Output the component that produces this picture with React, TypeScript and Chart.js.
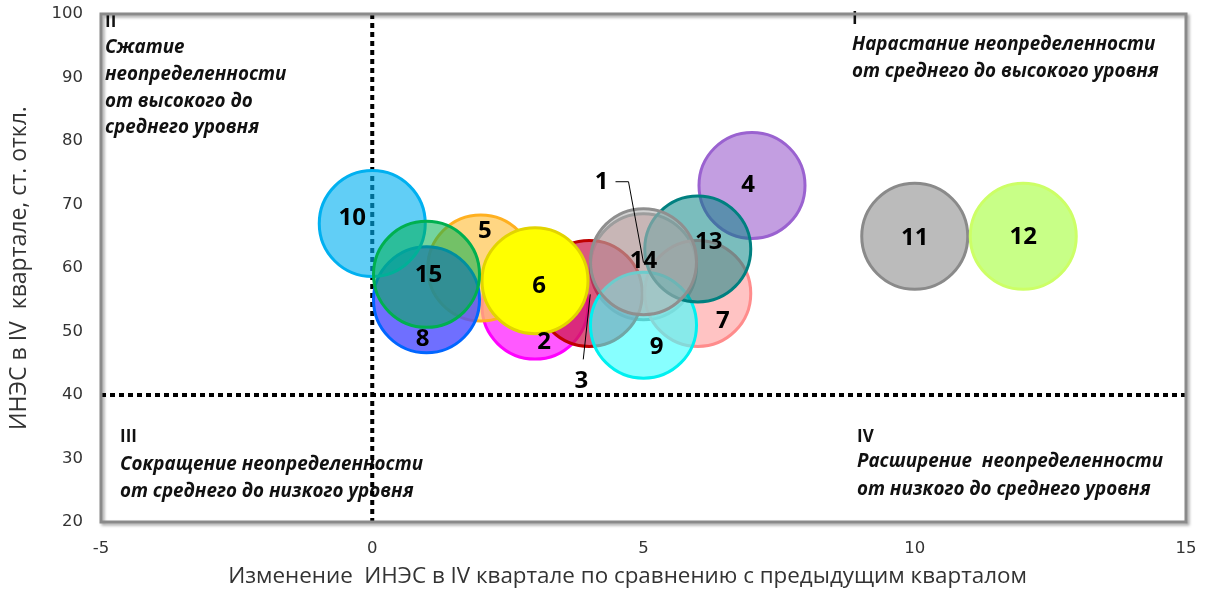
import React, { useEffect, useRef } from "react";
import { Chart, registerables } from "chart.js";

Chart.register(...registerables);

// ---- Data ----
const bubbleNames = ["1", "2", "3", "4", "5", "6", "7", "8", "9", "10", "11", "12", "13", "14", "15"];
const changeValues = [5, 3, 4, 7, 2, 3, 6, 1, 5, 0, 10, 12, 6, 5, 1];
const levelValues = [60.2, 54, 56, 73, 60, 58, 56, 55, 51, 67, 65, 65, 63, 61, 59];
const xTickValues = [-5, 0, 5, 10, 15];
const yTickValues = [20, 30, 40, 50, 60, 70, 80, 90, 100];
const xDivider = 0;
const yDivider = 40;

const xTitle = "Изменение  ИНЭС в IV квартале по сравнению с предыдущим кварталом";
const yTitle = "ИНЭС в IV  квартале, ст. откл.";

const quadrantTexts = [
  { numeral: "I", lines: ["Нарастание неопределенности", "от среднего до высокого уровня"] },
  { numeral: "II", lines: ["Сжатие", "неопределенности", "от высокого до", "среднего уровня"] },
  { numeral: "III", lines: ["Сокращение неопределенности", "от среднего до низкого уровня"] },
  { numeral: "IV", lines: ["Расширение  неопределенности", "от низкого до среднего уровня"] },
];

// ---- Styles ----
const fillColors = [
  "rgba(215,140,140,0.6)",
  "rgba(255,60,255,0.85)",
  "rgba(205,25,75,0.72)",
  "rgba(175,125,215,0.75)",
  "rgba(255,200,90,0.75)",
  "rgba(255,255,0,1)",
  "rgba(255,170,170,0.7)",
  "rgba(75,75,255,0.8)",
  "rgba(70,255,255,0.65)",
  "rgba(0,176,240,0.62)",
  "rgba(187,187,187,1)",
  "rgba(200,255,135,1)",
  "rgba(0,128,128,0.52)",
  "rgba(180,180,180,0.6)",
  "rgba(0,176,80,0.55)",
];
const borderColors = [
  "#7a7a7a", "#ff00ff", "#c00000", "#9a62d0", "#ffb020", "#e2d400", "#ff8c8c", "#0066ff",
  "#00f0f0", "#00b0f0", "#8a8a8a", "#ccff66", "#008080", "#8f8f8f", "#00b050",
];
// label offsets (px) relative to bubble centre
const labelOffsets = [
  [-42, -85], [9, 36], [-8, 88], [-4, 0], [4, -37], [4, 5], [25, 28], [-4, 39],
  [13, 22], [-20, -5], [0, 2], [0, 1], [11, -7], [0, 0], [2, 1],
];
// leader lines (px, relative to bubble centre)
const leaders: Record<number, number[][]> = {
  0: [[-28, -85], [-15, -85], [0, -4]],
  2: [[-6, 66], [1, 1]],
};

const overlayPlugin = {
  id: "overlay",
  beforeDatasetsDraw(chart: any) {
    const { ctx, chartArea, scales } = chart;
    const { left, right, top, bottom } = chartArea;
    ctx.save();
    // quadrant texts
    ctx.fillStyle = "#111";
    ctx.textAlign = "left";
    ctx.textBaseline = "middle";
    const boldFont = "bold 17px 'Open Sans'";
    const italicFont = "italic bold 18.8px 'Open Sans'";
    const put = (q: any, x: number, y0: number, ys: number[]) => {
      ctx.font = boldFont;
      ctx.fillText(q.numeral, x, y0);
      ctx.font = italicFont;
      q.lines.forEach((l: string, i: number) => ctx.fillText(l, x, ys[i]));
    };
    put(quadrantTexts[0], left + 751, top + 5, [top + 31, top + 58]);
    put(quadrantTexts[1], left + 4, top + 8, [top + 34, top + 61, top + 88, top + 114]);
    put(quadrantTexts[2], left + 19, top + 423, [top + 451, top + 478]);
    put(quadrantTexts[3], left + 756, top + 423, [top + 448, top + 476]);

    // dotted dividers
    const xp = scales.x.getPixelForValue(xDivider);
    const yp = scales.y.getPixelForValue(yDivider);
    ctx.strokeStyle = "#000";
    ctx.lineWidth = 4;
    ctx.setLineDash([5, 4]);
    ctx.beginPath();
    ctx.moveTo(xp, top);
    ctx.lineTo(xp, bottom);
    ctx.moveTo(left, yp);
    ctx.lineTo(right, yp);
    ctx.stroke();
    ctx.setLineDash([]);

    // frame
    ctx.shadowColor = "rgba(0,0,0,0.35)";
    ctx.shadowBlur = 3;
    ctx.shadowOffsetX = 2;
    ctx.shadowOffsetY = 2;
    ctx.strokeStyle = "#8a8a8a";
    ctx.lineWidth = 3;
    ctx.strokeRect(left, top, right - left, bottom - top);
    ctx.restore();
  },
  afterDatasetsDraw(chart: any) {
    const { ctx, chartArea } = chart;
    const meta = chart.getDatasetMeta(0);
    ctx.save();
    // leaders
    ctx.strokeStyle = "#000";
    ctx.lineWidth = 1;
    Object.keys(leaders).forEach((k) => {
      const i = Number(k);
      const el = meta.data[i];
      const pts = leaders[i];
      ctx.beginPath();
      pts.forEach((p, j) => {
        if (j === 0) ctx.moveTo(el.x + p[0], el.y + p[1]);
        else ctx.lineTo(el.x + p[0], el.y + p[1]);
      });
      ctx.stroke();
    });
    ctx.fillStyle = "#000";
    ctx.font = "bold 24px 'Open Sans'";
    ctx.textAlign = "center";
    ctx.textBaseline = "middle";
    meta.data.forEach((el: any, i: number) => {
      const o = labelOffsets[i];
      ctx.fillText(bubbleNames[i], el.x + o[0], el.y + o[1]);
    });
    // x axis title (slightly left of centre as in the original)
    ctx.fillStyle = "#333";
    ctx.font = "22.4px 'Open Sans'";
    ctx.fillText(xTitle, (chartArea.left + chartArea.right) / 2 - 16, chartArea.bottom + 55);
    ctx.restore();
  },
};

export default function App() {
  const ref = useRef<HTMLCanvasElement | null>(null);
  useEffect(() => {
    document.body.style.margin = "0";
    const canvas = ref.current!;
    const chart = new Chart(canvas, {
      type: "bubble",
      data: {
        datasets: [
          {
            label: "ИНЭС",
            data: changeValues.map((x, i) => ({ x, y: levelValues[i] })),
            backgroundColor: fillColors,
            borderColor: borderColors,
            borderWidth: 3,
            radius: 53,
            hoverRadius: 0,
            clip: false,
          } as any,
        ],
      },
      options: {
        responsive: false,
        animation: false,
        events: [],
        layout: { autoPadding: false, padding: { top: 14, right: 20, left: 0, bottom: 0 } },
        plugins: { legend: { display: false }, tooltip: { enabled: false } },
        scales: {
          x: {
            type: "linear",
            min: -5,
            max: 15,
            afterBuildTicks: (s: any) => { s.ticks = xTickValues.map((v) => ({ value: v })); },
            afterFit: (s: any) => { s.height = 67; s.paddingLeft = 0; s.paddingRight = 0; },
            grid: { display: false, drawTicks: false },
            border: { display: false },
            ticks: { padding: 17, color: "#333", font: { family: "'DejaVu Sans'", size: 16.5 } },
            title: { display: false },
          },
          y: {
            type: "linear",
            min: 20,
            max: 100,
            afterBuildTicks: (s: any) => { s.ticks = yTickValues.map((v) => ({ value: v })); },
            afterFit: (s: any) => { s.width = 101; s.paddingTop = 0; s.paddingBottom = 0; },
            grid: { display: false, drawTicks: false },
            border: { display: false },
            ticks: { padding: 18, color: "#333", font: { family: "'DejaVu Sans'", size: 16.5 } },
            title: {
              display: true,
              text: yTitle,
              color: "#333",
              font: { family: "'Open Sans'", size: 23 },
              padding: { top: 6, bottom: 0 },
            },
          },
        },
      },
      plugins: [overlayPlugin],
    });
    return () => chart.destroy();
  }, []);
  return <canvas ref={ref} width={1206} height={589} style={{ display: "block" }} />;
}
